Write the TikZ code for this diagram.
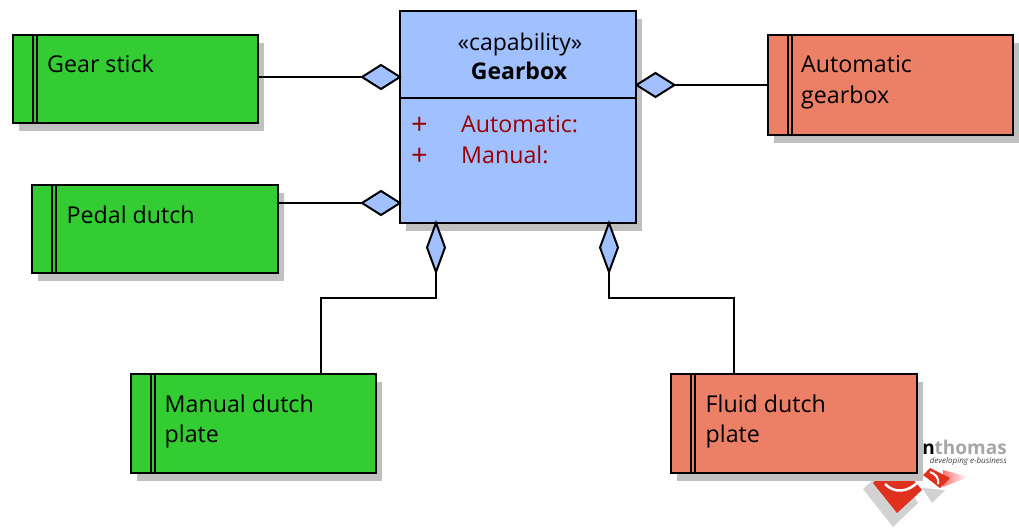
\documentclass[tikz,border=0pt]{standalone}
\usepackage{fontspec}
\setmainfont{Open Sans}
\usetikzlibrary{shapes.geometric,shadows}
\definecolor{grn}{HTML}{33CC33}
\definecolor{sal}{HTML}{EB8067}
\definecolor{blu}{HTML}{A0C0FF}
\definecolor{drd}{HTML}{990000}
\definecolor{shd}{HTML}{C0C0C0}
\definecolor{lred}{HTML}{E0301E}
\tikzset{
 box/.style={draw=black,line width=2pt,minimum width=#1,inner sep=0pt,outer sep=0pt,anchor=north west,
   preaction={fill=shd,transform canvas={shift={(6pt,-8pt)}}}},
 lbl/.style={anchor=base west,inner sep=0pt,font=\fontsize{23.2}{24}\selectfont,text=black},
 dia/.style={diamond,draw=black,fill=blu,line width=2pt,inner sep=0pt,outer sep=0pt},
 hd/.style={dia,minimum width=38pt,minimum height=24pt},
 vd/.style={dia,minimum width=18pt,minimum height=49pt},
 conn/.style={draw=black,line width=2pt},
 rule/.style={draw=black,line width=2pt},
}
\newcommand{\classbox}[6]{% name x y w h colour
  \node[box=#4pt,minimum height=#5pt,fill=#6] (#1) at (#2,#3) {};
  \draw[rule] ([xshift=19.5pt]#1.north west) -- ([xshift=19.5pt]#1.south west);
  \draw[rule] ([xshift=24pt]#1.north west) -- ([xshift=24pt]#1.south west);
}
\begin{document}
\begin{tikzpicture}[x=1pt,y=-1pt]
\useasboundingbox (0,0) rectangle (1019,529);
% logo
\fill[gray!35] (863,489) -- (893,462) -- (918,503) -- (893,527) -- cycle;
\fill[gray!35] (922,488) -- (945,490) -- (932,503) -- cycle;
\shade[left color=red!55,right color=white] (943,470) -- (968,477) -- (943,487) -- cycle;
\fill[lred] (873,483) -- (897,460) -- (922,490) -- (897,513) -- cycle;
\fill[lred] (923,475) -- (930,468) -- (950,478) -- (940,488) -- cycle;
\draw[white,line width=2.5pt] (885,484) .. controls (895,494) and (908,492) .. (918,482);
\draw[white,line width=2pt] (930,472) .. controls (936,474) and (939,478) .. (938,484);
\node[anchor=base east,inner sep=0pt,font=\fontsize{19}{19}\selectfont\bfseries] (logoname) at (1007,454) {\textcolor{black}{an}\textcolor{gray!70}{thomas}};
\node[anchor=base east,inner sep=0pt,font=\fontsize{8}{8}\selectfont\itshape,text=black!75] (logotag) at (1007,463.5) {developing e-business};
% class boxes
\classbox{gs}{13}{35}{245}{88}{grn}
\classbox{pc}{32}{185}{246}{88}{grn}
\classbox{ag}{768}{35}{245}{100}{sal}
\classbox{mp}{131}{374}{245}{99}{grn}
\classbox{fp}{671}{374}{246}{99}{sal}
% capability
\node[box=236pt,minimum height=212pt,fill=blu] (cap) at (400,11) {};
\coordinate (divl) at (400,98);
\coordinate (divr) at (636,98);
\draw[rule] (divl) -- (divr);
\node[anchor=base,inner sep=0pt,font=\fontsize{23}{23}\selectfont] (stereo) at (520,51) {«capability»};
\node[anchor=base,inner sep=0pt,font=\fontsize{23}{23}\selectfont\bfseries] (capname) at (519,80) {Gearbox};
\node[lbl,text=drd,font=\fontsize{29}{29}\selectfont] (p1) at (411,135) {+};
\node[lbl,text=drd] (a1) at (461,133) {Automatic:};
\node[lbl,text=drd,font=\fontsize{29}{29}\selectfont] (p2) at (411,166) {+};
\node[lbl,text=drd] (a2) at (461,164) {Manual:};
% labels
\node[lbl] (t1) at (47,73) {Gear stick};
\node[lbl] (t2) at (66.5,224) {Pedal dutch};
\node[lbl] (t3) at (801,73) {Automatic};
\node[lbl] (t3b) at (801,104) {gearbox};
\node[lbl] (t4) at (164.5,412) {Manual dutch};
\node[lbl] (t4b) at (164.5,442.5) {plate};
\node[lbl] (t5) at (705.5,412) {Fluid dutch};
\node[lbl] (t5b) at (705.5,442.5) {plate};
% diamonds
\node[hd] (d1) at (381,77) {};
\node[hd] (d2) at (381,203) {};
\node[hd] (d3) at (655.5,85) {};
\node[vd] (d4) at (436,247.5) {};
\node[vd] (d5) at (609,247.5) {};
% connectors
\draw[conn] (d1.west) -- (d1.west -| gs.east);
\draw[conn] (d2.west) -- (d2.west -| pc.east);
\draw[conn] (d3.east) -- (d3.east -| ag.west);
\coordinate (c1) at (321,298);
\coordinate (c2) at (734,298);
\draw[conn] (d4.south) |- (c1) -- (c1 |- mp.north);
\draw[conn] (d5.south) |- (c2) -- (c2 |- fp.north);
\end{tikzpicture}
\end{document}
